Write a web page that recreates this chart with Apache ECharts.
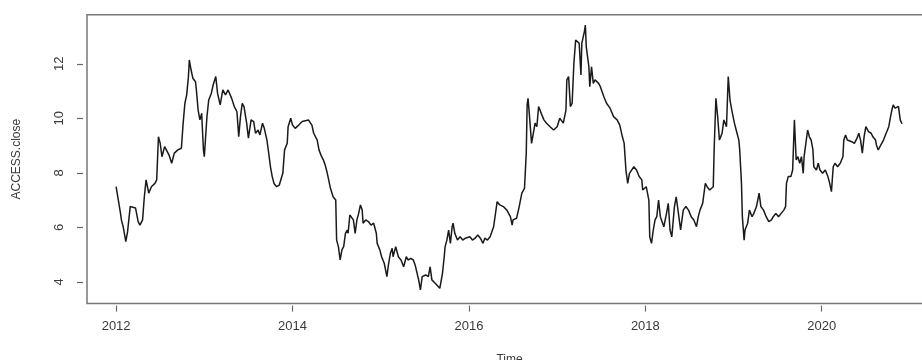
<!DOCTYPE html>
<html>
<head>
<meta charset="utf-8">
<style>
  html, body { margin: 0; padding: 0; background: #ffffff; }
  #chart { width: 922px; height: 360px; }
</style>
<script src="https://cdn.jsdelivr.net/npm/echarts@6/dist/echarts.min.js"></script>
</head>
<body>
<div id="chart"></div>
<script>
// ACCESS closing price, [decimal year, close], grouped by calendar year
const close2012 = [[2012.00,7.49],[2012.05,6.51],[2012.06,6.27],[2012.08,6.02],[2012.11,5.47],[2012.13,5.84],[2012.16,6.76],[2012.18,6.82],[2012.22,6.71],[2012.25,6.21],[2012.27,6.08],[2012.30,6.27],[2012.32,7.12],[2012.34,7.74],[2012.37,7.25],[2012.40,7.49],[2012.44,7.61],[2012.46,7.74],[2012.48,9.32],[2012.50,9.08],[2012.52,8.59],[2012.55,8.96],[2012.57,8.84],[2012.60,8.65],[2012.63,8.35],[2012.66,8.72],[2012.70,8.84],[2012.74,8.90],[2012.76,9.82],[2012.78,10.55],[2012.80,10.86],[2012.82,11.53],[2012.83,12.14],[2012.85,11.77],[2012.87,11.47],[2012.90,11.34],[2012.91,11.04],[2012.93,10.30],[2012.95,9.94],[2012.97,10.18],[2012.99,8.84]];
const close2013 = [[2013.00,8.59],[2013.03,10.06],[2013.05,10.67],[2013.08,10.92],[2013.10,11.22],[2013.13,11.53],[2013.15,10.92],[2013.18,10.49],[2013.21,11.04],[2013.24,10.86],[2013.27,11.04],[2013.29,10.98],[2013.31,10.73],[2013.34,10.43],[2013.37,10.24],[2013.39,9.32],[2013.41,10.06],[2013.43,10.55],[2013.45,10.43],[2013.48,9.82],[2013.50,9.27],[2013.53,9.94],[2013.56,9.88],[2013.58,9.45],[2013.61,9.57],[2013.63,9.39],[2013.66,9.82],[2013.68,9.63],[2013.71,9.20],[2013.73,8.72],[2013.75,8.22],[2013.77,7.86],[2013.79,7.61],[2013.82,7.49],[2013.85,7.55],[2013.87,7.49],[2013.89,7.98],[2013.91,8.84],[2013.94,9.08],[2013.95,9.69],[2013.98,10.00]];
const close2014 = [[2014.00,9.75],[2014.03,9.63],[2014.07,9.75],[2014.11,9.88],[2014.13,9.82],[2014.18,9.94],[2014.22,9.75],[2014.24,9.45],[2014.28,9.20],[2014.30,8.84],[2014.33,8.59],[2014.35,8.47],[2014.37,8.29],[2014.39,8.04],[2014.41,7.74],[2014.43,7.43],[2014.45,7.37],[2014.46,7.12],[2014.49,7.00],[2014.50,5.53],[2014.52,5.29],[2014.54,4.80],[2014.56,5.17],[2014.58,5.29],[2014.60,5.78],[2014.62,5.90],[2014.63,5.78],[2014.65,6.45],[2014.67,6.51],[2014.69,6.27],[2014.71,5.78],[2014.73,6.27],[2014.75,6.51],[2014.77,6.82],[2014.79,6.63],[2014.80,6.15],[2014.83,6.27],[2014.86,6.21],[2014.89,6.08],[2014.92,6.15],[2014.95,5.78],[2014.96,5.41],[2014.99,5.17]];
const close2015 = [[2015.01,4.92],[2015.04,4.68],[2015.07,4.19],[2015.09,4.68],[2015.11,5.05],[2015.13,5.23],[2015.14,4.92],[2015.17,5.29],[2015.20,4.92],[2015.23,4.80],[2015.26,4.55],[2015.29,4.92],[2015.31,4.80],[2015.34,4.86],[2015.37,4.80],[2015.39,4.62],[2015.41,4.55],[2015.43,4.07],[2015.45,3.70],[2015.47,4.19],[2015.48,4.13],[2015.51,4.25],[2015.54,4.19],[2015.56,4.55],[2015.58,4.07],[2015.60,4.00],[2015.62,3.94],[2015.64,4.00],[2015.67,3.76],[2015.68,3.94],[2015.70,4.31],[2015.72,4.92],[2015.73,5.29],[2015.75,5.53],[2015.77,5.90],[2015.79,5.41],[2015.81,6.02],[2015.82,6.15],[2015.84,5.78],[2015.87,5.53],[2015.90,5.65],[2015.93,5.53],[2015.96,5.60],[2015.98,5.53]];
const close2016 = [[2016.01,5.65],[2016.04,5.53],[2016.07,5.60],[2016.10,5.72],[2016.13,5.60],[2016.16,5.41],[2016.18,5.60],[2016.21,5.53],[2016.24,5.65],[2016.28,6.02],[2016.32,6.94],[2016.35,6.82],[2016.39,6.76],[2016.43,6.63],[2016.47,6.39],[2016.49,6.08],[2016.50,6.27],[2016.54,6.33],[2016.57,6.76],[2016.60,7.25],[2016.63,7.43],[2016.65,8.72],[2016.66,10.50],[2016.67,10.73],[2016.69,9.94],[2016.71,9.08],[2016.73,9.45],[2016.75,9.82],[2016.77,9.69],[2016.79,10.43],[2016.82,10.18],[2016.85,9.94],[2016.88,9.82],[2016.92,9.69],[2016.96,9.57]];
const close2017 = [[2017.00,9.69],[2017.03,10.00],[2017.07,9.82],[2017.10,10.30],[2017.11,11.41],[2017.13,11.53],[2017.15,10.43],[2017.17,10.55],[2017.19,12.02],[2017.21,12.87],[2017.23,12.87],[2017.25,12.75],[2017.27,11.59],[2017.28,12.75],[2017.31,13.20],[2017.32,13.42],[2017.33,12.63],[2017.36,11.89],[2017.37,11.16],[2017.39,11.89],[2017.41,11.28],[2017.43,11.41],[2017.47,11.28],[2017.49,11.16],[2017.53,10.79],[2017.56,10.55],[2017.60,10.37],[2017.64,10.06],[2017.68,9.94],[2017.71,9.75],[2017.74,9.32],[2017.76,9.08],[2017.78,8.10],[2017.80,7.61],[2017.82,7.98],[2017.87,8.22],[2017.90,8.10],[2017.93,7.86],[2017.96,7.74],[2017.97,7.37]];
const close2018 = [[2018.01,7.49],[2018.04,7.00],[2018.05,5.65],[2018.07,5.41],[2018.09,5.90],[2018.11,6.27],[2018.13,6.39],[2018.15,7.00],[2018.17,6.39],[2018.21,6.02],[2018.24,6.51],[2018.26,6.88],[2018.28,5.90],[2018.30,5.65],[2018.33,6.76],[2018.35,7.12],[2018.38,6.39],[2018.40,5.90],[2018.43,6.63],[2018.46,6.76],[2018.49,6.63],[2018.52,6.39],[2018.55,6.27],[2018.58,6.02],[2018.60,6.39],[2018.62,6.63],[2018.65,6.88],[2018.68,7.61],[2018.70,7.49],[2018.73,7.37],[2018.77,7.49],[2018.78,8.84],[2018.80,10.73],[2018.82,10.06],[2018.84,9.20],[2018.87,9.45],[2018.89,9.94],[2018.92,9.69],[2018.94,11.53],[2018.96,10.67],[2018.98,10.30]];
const close2019 = [[2019.01,9.82],[2019.03,9.57],[2019.06,9.20],[2019.07,8.84],[2019.09,7.61],[2019.10,6.39],[2019.12,5.53],[2019.13,5.90],[2019.16,6.15],[2019.18,6.63],[2019.21,6.39],[2019.23,6.51],[2019.26,6.76],[2019.29,7.25],[2019.31,6.76],[2019.34,6.63],[2019.37,6.39],[2019.40,6.21],[2019.43,6.27],[2019.45,6.39],[2019.48,6.51],[2019.51,6.39],[2019.54,6.51],[2019.57,6.63],[2019.59,6.76],[2019.60,7.61],[2019.62,7.86],[2019.65,7.86],[2019.67,8.10],[2019.69,9.94],[2019.71,8.47],[2019.73,8.59],[2019.75,8.35],[2019.77,8.59],[2019.79,7.98],[2019.80,8.59],[2019.82,9.08],[2019.84,9.57],[2019.86,9.32],[2019.88,9.20],[2019.90,8.84],[2019.91,8.22],[2019.94,8.10],[2019.96,8.35],[2019.98,8.10]];
const close2020 = [[2020.01,7.98],[2020.04,8.10],[2020.07,7.86],[2020.09,7.61],[2020.11,7.31],[2020.13,8.22],[2020.15,8.35],[2020.18,8.22],[2020.21,8.35],[2020.24,8.59],[2020.25,9.20],[2020.27,9.39],[2020.29,9.20],[2020.31,9.20],[2020.34,9.14],[2020.37,9.08],[2020.40,9.27],[2020.42,9.45],[2020.44,9.20],[2020.46,8.72],[2020.48,9.32],[2020.50,9.69],[2020.53,9.51],[2020.56,9.45],[2020.58,9.32],[2020.61,9.20],[2020.62,9.02],[2020.64,8.84],[2020.66,8.96],[2020.68,9.02],[2020.70,9.20],[2020.73,9.45],[2020.76,9.69],[2020.78,10.06],[2020.80,10.37],[2020.81,10.49],[2020.83,10.37],[2020.85,10.30],[2020.87,10.43],[2020.89,9.94],[2020.91,9.80]];

const yearTicks = [2012, 2014, 2016, 2018, 2020];
const priceTicks = [4, 6, 8, 10, 12];

const closeSeries = [].concat(close2012, close2013, close2014, close2015, close2016,
                              close2017, close2018, close2019, close2020);

const FONT = 'Liberation Sans, Arial, Helvetica, sans-serif';
const TEXT = '#3a3a3a';

const chart = echarts.init(document.getElementById('chart'), null, { renderer: 'canvas' });
chart.setOption({
  animation: false,
  backgroundColor: '#ffffff',
  grid: {
    left: 87, top: 14.7, width: 845, height: 288.9,
    outerBoundsMode: 'none',
    containLabel: false,
    show: true, borderColor: '#777777', borderWidth: 1.5, backgroundColor: 'transparent'
  },
  xAxis: {
    type: 'value',
    min: 2011.67, max: 2021.25,
    offset: 2,
    name: 'Time',
    nameLocation: 'middle',
    nameGap: 48,
    nameTextStyle: { fontFamily: FONT, fontSize: 12, color: TEXT },
    axisLine: { show: false },
    axisTick: { show: true, length: 6, customValues: yearTicks, lineStyle: { color: '#666', width: 1.2 } },
    axisLabel: {
      customValues: yearTicks, margin: 14, fontFamily: FONT, fontSize: 13, color: TEXT,
      formatter: (v) => String(v)
    },
    splitLine: { show: false }
  },
  yAxis: {
    type: 'value',
    min: 3.2, max: 13.8,
    offset: 4,
    name: 'ACCESS.close',
    nameLocation: 'middle',
    nameGap: 60,
    nameRotate: 90,
    nameTextStyle: { fontFamily: FONT, fontSize: 12, color: TEXT },
    axisLine: { show: false },
    axisTick: { show: true, length: 6, customValues: priceTicks, lineStyle: { color: '#666', width: 1.2 } },
    axisLabel: {
      customValues: priceTicks, rotate: 90, margin: 17, fontFamily: FONT, fontSize: 13, color: TEXT,
      formatter: (v) => String(v)
    },
    splitLine: { show: false }
  },
  series: [{
    type: 'line',
    data: closeSeries,
    showSymbol: false,
    lineStyle: { color: '#1a1a1a', width: 1.5 },
    clip: true
  }]
});
</script>
</body>
</html>
